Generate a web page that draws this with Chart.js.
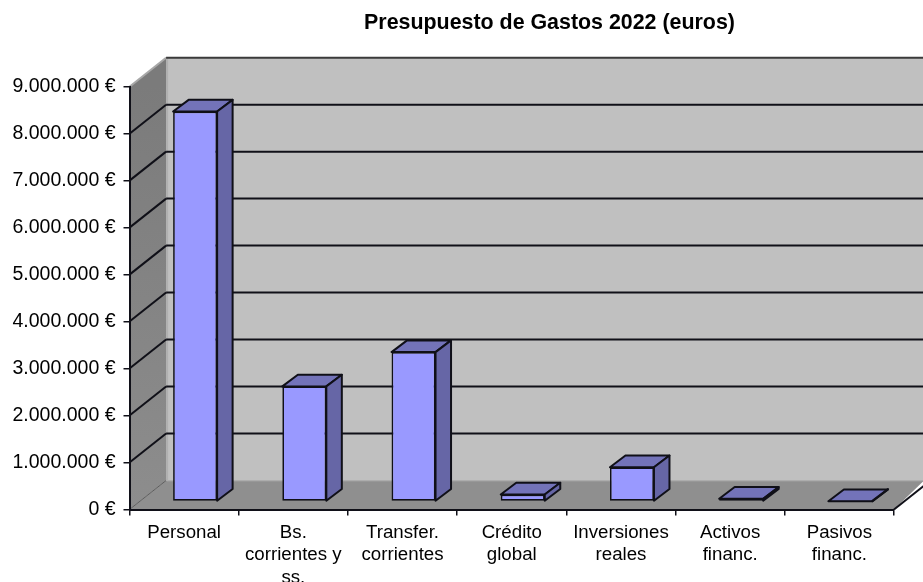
<!DOCTYPE html>
<html>
<head>
<meta charset="utf-8">
<title>Presupuesto de Gastos 2022</title>
<script src="https://cdn.jsdelivr.net/npm/chart.js@4/dist/chart.umd.min.js"></script>
<style>
  html, body { margin: 0; padding: 0; background: #fff; overflow: hidden; }
  canvas { display: block; filter: blur(0.45px); }
</style>
</head>
<body>
<canvas id="myChart" width="923" height="582"></canvas>
<script>
// values
const categories = ['Personal', ['Bs.', 'corrientes y', 'ss.'], ['Transfer.', 'corrientes'], ['Crédito', 'global'], ['Inversiones', 'reales'], ['Activos', 'financ.'], ['Pasivos', 'financ.']];
const gastos = [8300000, 2450000, 3180000, 150000, 730000, 60000, 5000];
const yTickLabels = ['0 €', '1.000.000 €', '2.000.000 €', '3.000.000 €', '4.000.000 €', '5.000.000 €', '6.000.000 €', '7.000.000 €', '8.000.000 €', '9.000.000 €'];

const fontName = '"Liberation Sans", Arial, sans-serif';
const lineColor = '#101018';

// room depth and bar depth of the fake 3D view
const wallDx = 36.6, wallDy = -29;
const barShiftX = 11, barShiftY = -8;
const barDx = 15.5, barDy = -11.7;

function poly(ctx, pts, fill, stroke, width) {
    ctx.beginPath();
    ctx.moveTo(pts[0][0], pts[0][1]);
    for (let i = 1; i < pts.length; i++) ctx.lineTo(pts[i][0], pts[i][1]);
    ctx.closePath();
    if (fill) { ctx.fillStyle = fill; ctx.fill(); }
    if (stroke) { ctx.strokeStyle = stroke; ctx.lineWidth = width; ctx.lineJoin = 'round'; ctx.stroke(); }
}

function seg(ctx, x1, y1, x2, y2, color, width) {
    ctx.beginPath();
    ctx.moveTo(x1, y1);
    ctx.lineTo(x2, y2);
    ctx.strokeStyle = color;
    ctx.lineWidth = width;
    ctx.stroke();
}

const room3d = {
    id: 'room3d',
    afterLayout(chart) {
        // title sits off-centre in the original
        chart.titleBlock.left = 205;
    },
    beforeDraw(chart) {
        const ctx = chart.ctx;
        const a = chart.chartArea;
        const y = chart.scales.y;
        ctx.save();
        // back wall
        poly(ctx, [[a.left + wallDx, a.top + wallDy], [923, a.top + wallDy], [923, a.bottom + wallDy], [a.left + wallDx, a.bottom + wallDy]], '#c0c0c0');
        // side wall
        const g = ctx.createLinearGradient(0, a.top, 0, a.bottom);
        g.addColorStop(0, '#7b7b7b');
        g.addColorStop(1, '#8d8d8d');
        poly(ctx, [[a.left, a.top], [a.left + wallDx, a.top + wallDy], [a.left + wallDx, a.bottom + wallDy], [a.left, a.bottom]], g);
        // floor
        poly(ctx, [[a.left, a.bottom], [a.left + wallDx, a.bottom + wallDy], [923, a.bottom + wallDy], [923, a.bottom + wallDy + 1], [a.right, a.bottom]], '#8f8f8f');
        seg(ctx, a.left + wallDx + 1, a.bottom + wallDy + 0.5, 923, a.bottom + wallDy + 0.5, '#a2a2a2', 1);
        // light edges of the walls
        seg(ctx, a.left + wallDx + 1, a.top + wallDy, a.left + wallDx + 1, a.bottom + wallDy, '#b0b0b0', 2);
        seg(ctx, a.left, a.top, a.left + wallDx, a.top + wallDy, '#a8a8a8', 2);
        seg(ctx, a.left, a.bottom, a.left + wallDx, a.bottom + wallDy, '#5c5c5c', 1);
        // gridlines: diagonal on the side wall, level on the back wall
        y.ticks.forEach((t, i) => {
            if (i === 0) return;
            const py = y.getPixelForValue(t.value);
            const last = i === y.ticks.length - 1;
            if (!last) seg(ctx, a.left, py, a.left + wallDx, py + wallDy, lineColor, 2);
            seg(ctx, a.left + wallDx, py + wallDy, 923, py + wallDy, last ? '#3a3a3a' : lineColor, 2);
        });
        // right edge of the floor
        seg(ctx, a.right, a.bottom, a.right + wallDx, a.bottom + wallDy, lineColor, 2);
        ctx.restore();
    },
    beforeDatasetsDraw(chart) {
        const ctx = chart.ctx;
        ctx.save();
        chart.getDatasetMeta(0).data.forEach(bar => {
            const l = bar.x - bar.width / 2 + barShiftX;
            const r = bar.x + bar.width / 2 + barShiftX;
            const t = bar.y + barShiftY;
            const b = bar.base + barShiftY;
            poly(ctx, [[l, t], [l + barDx, t + barDy], [r + barDx, t + barDy], [r, t]], '#7373b9', lineColor, 2);
            poly(ctx, [[r, t], [r + barDx, t + barDy], [r + barDx, b + barDy], [r, b]], '#6666a6', lineColor, 2);
        });
        ctx.restore();
    },
    beforeDatasetDraw(chart) {
        chart.ctx.save();
        chart.ctx.translate(barShiftX, barShiftY);
    },
    afterDatasetDraw(chart) {
        chart.ctx.restore();
    }
};

const ctx = document.getElementById('myChart').getContext('2d');
new Chart(ctx, {
    type: 'bar',
    plugins: [room3d],
    data: {
        labels: categories,
        datasets: [{
            label: 'Gastos',
            data: gastos,
            backgroundColor: '#9999ff',
            borderColor: lineColor,
            borderWidth: 1.7,
            borderSkipped: false,
            categoryPercentage: 0.403,
            barPercentage: 1,
            clip: false
        }]
    },
    options: {
        responsive: false,
        animation: false,
        layout: { padding: { right: 29 } },
        plugins: {
            legend: { display: false },
            tooltip: { enabled: false },
            title: {
                display: true,
                text: 'Presupuesto de Gastos 2022 (euros)',
                color: '#000',
                font: { family: fontName, size: 21.4, weight: 'bold', lineHeight: 1.2 },
                padding: { top: 10, bottom: 51 }
            }
        },
        scales: {
            x: {
                afterFit(s) { s.height = 72.5; },
                border: { display: true, color: lineColor, width: 2 },
                grid: { drawOnChartArea: false, drawTicks: true, tickLength: 6, color: lineColor, lineWidth: 1.5 },
                ticks: { color: '#000', maxRotation: 0, autoSkip: false, padding: 6, font: { family: fontName, size: 18.7, lineHeight: 1.2 } }
            },
            y: {
                min: 0,
                max: 9000000,
                afterFit(s) { s.width = 129.5; },
                border: { display: true, color: lineColor, width: 2 },
                grid: { drawOnChartArea: false, drawTicks: true, tickLength: 6, color: lineColor, lineWidth: 1.5 },
                ticks: {
                    stepSize: 1000000,
                    color: '#000',
                    padding: 8,
                    font: { family: fontName, size: 19.5 },
                    callback: (v, i) => yTickLabels[i]
                }
            }
        }
    }
});
</script>
</body>
</html>
